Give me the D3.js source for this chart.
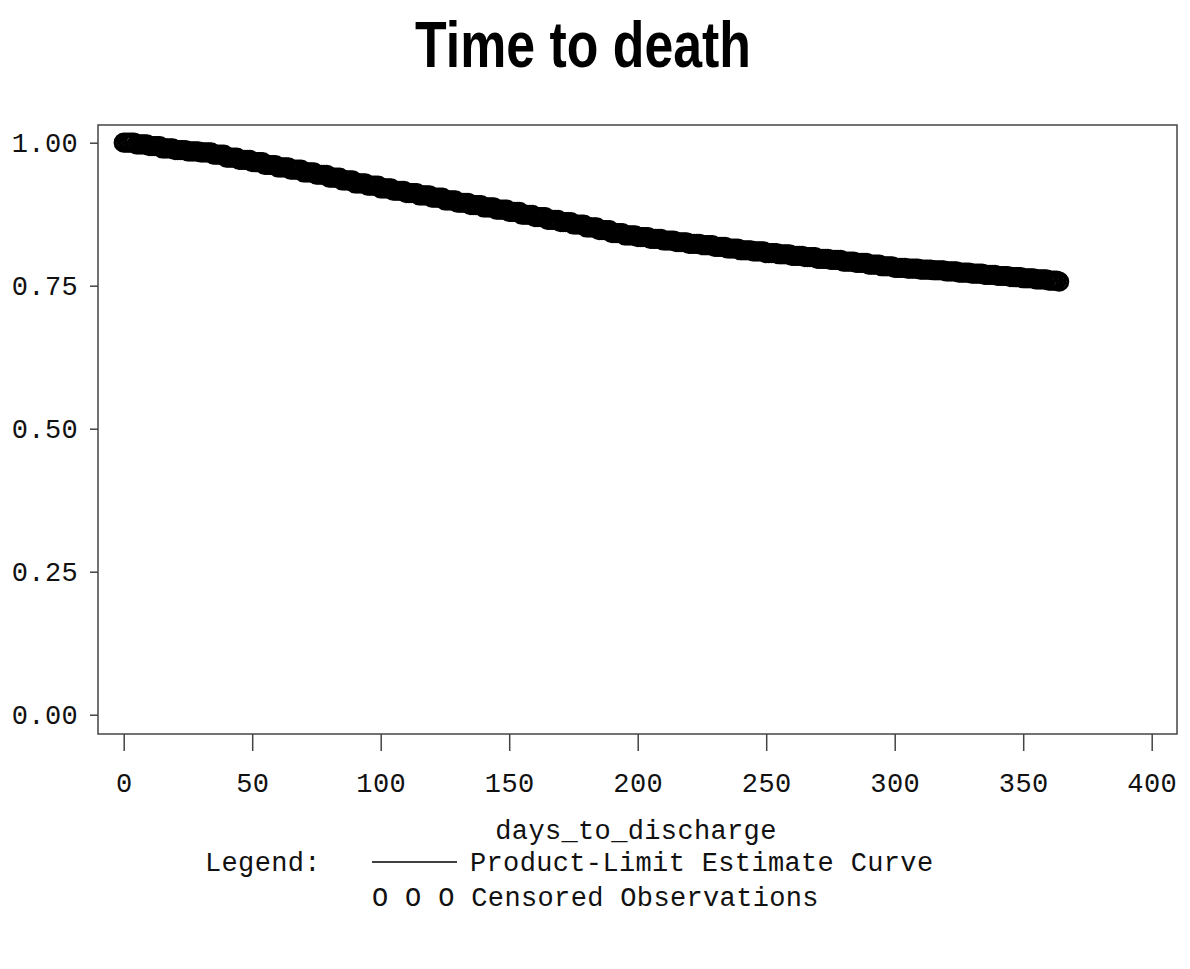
<!DOCTYPE html>
<html>
<head>
<meta charset="utf-8">
<script src="https://cdn.jsdelivr.net/npm/d3@7"></script>
<style>
  html, body { margin: 0; padding: 0; background: #fff; }
  svg { display: block; }
  .mono { font-family: "Liberation Mono", "DejaVu Sans Mono", monospace; font-size: 27px; fill: #111; letter-spacing: 0.35px; }
</style>
</head>
<body>
<script>
// ---- Data ----
const title = "Time to death";
const xLabel = "days_to_discharge";
const xTicks = [0, 50, 100, 150, 200, 250, 300, 350, 400];
const yTicks = [0.00, 0.25, 0.50, 0.75, 1.00];

// Product-limit (Kaplan-Meier) estimate: step times and survival values
const stepDays = [0,5,10,15,20,25,30,35,40,45,50,55,60,65,70,75,80,85,90,95,
  100,105,110,115,120,125,130,135,140,145,150,155,160,165,170,175,180,185,190,195,
  200,205,210,215,220,225,230,235,240,245,250,255,260,265,270,275,280,285,290,295,
  300,305,310,315,320,325,330,335,340,345,350,355,360,364];
const survival = [1.000,0.997,0.994,0.990,0.987,0.985,0.983,0.979,0.974,0.970,
  0.966,0.961,0.957,0.953,0.948,0.944,0.939,0.934,0.929,0.925,
  0.920,0.916,0.912,0.908,0.904,0.899,0.895,0.891,0.887,0.883,
  0.879,0.874,0.870,0.865,0.861,0.857,0.852,0.847,0.842,0.838,
  0.835,0.832,0.829,0.826,0.823,0.821,0.818,0.815,0.812,0.810,
  0.807,0.805,0.802,0.800,0.797,0.795,0.792,0.790,0.787,0.784,
  0.781,0.780,0.778,0.777,0.775,0.773,0.771,0.769,0.767,0.765,
  0.763,0.761,0.759,0.757];

// Censored observation times (days)
const censoredDays = [0,1,2,3,4,5,6,7,8,9,10,11,12,13,14,15,16,17,18,19,20,21,22,23,24,25,26,27,28,29,
30,31,32,33,34,35,36,37,38,39,40,41,42,43,44,45,46,47,48,49,50,51,52,53,54,55,56,57,58,59,
60,61,62,63,64,65,66,67,68,69,70,71,72,73,74,75,76,77,78,79,80,81,82,83,84,85,86,87,88,89,
90,91,92,93,94,95,96,97,98,99,100,101,102,103,104,105,106,107,108,109,110,111,112,113,114,115,116,117,118,119,
120,121,122,123,124,125,126,127,128,129,130,131,132,133,134,135,136,137,138,139,140,141,142,143,144,145,146,147,148,149,
150,151,152,153,154,155,156,157,158,159,160,161,162,163,164,165,166,167,168,169,170,171,172,173,174,175,176,177,178,179,
180,181,182,183,184,185,186,187,188,189,190,191,192,193,194,195,196,197,198,199,200,201,202,203,204,205,206,207,208,209,
210,211,212,213,214,215,216,217,218,219,220,221,222,223,224,225,226,227,228,229,230,231,232,233,234,235,236,237,238,239,
240,241,242,243,244,245,246,247,248,249,250,251,252,253,254,255,256,257,258,259,260,261,262,263,264,265,266,267,268,269,
270,271,272,273,274,275,276,277,278,279,280,281,282,283,284,285,286,287,288,289,290,291,292,293,294,295,296,297,298,299,
300,301,302,303,304,305,306,307,308,309,310,311,312,313,314,315,316,317,318,319,320,321,322,323,324,325,326,327,328,329,
330,331,332,333,334,335,336,337,338,339,340,341,342,343,344,345,346,347,348,349,350,351,352,353,354,355,356,357,358,359,
360,361,362,363,364];

// ---- Layout ----
const W = 1190, H = 969;
const frame = { left: 98, top: 125, right: 1177, bottom: 734 };

const svg = d3.select("body").append("svg").attr("width", W).attr("height", H);

const x = d3.scaleLinear().domain([0, 400]).range([123.7, 1151.7]);
const y = d3.scaleLinear().domain([0, 1]).range([714.7, 142.7]);

// Title
svg.append("text")
  .attr("x", 415).attr("y", 67)
  .attr("textLength", 336).attr("lengthAdjust", "spacingAndGlyphs")
  .style("font-family", "'Liberation Sans', Arial, sans-serif")
  .style("font-weight", "bold").style("font-size", "64px")
  .text(title);

// Frame
svg.append("rect")
  .attr("x", frame.left).attr("y", frame.top)
  .attr("width", frame.right - frame.left).attr("height", frame.bottom - frame.top)
  .attr("fill", "none").attr("stroke", "#444").attr("stroke-width", 1.5);

// Y axis
const yAxis = d3.axisLeft(y).tickValues(yTicks).tickSize(8).tickPadding(12)
  .tickFormat(d3.format(".2f"));
const gy = svg.append("g").attr("transform", `translate(${frame.left},0)`).call(yAxis);
gy.select(".domain").remove();
gy.selectAll(".tick line").attr("stroke", "#444").attr("stroke-width", 1.5);
gy.selectAll(".tick text").attr("class", "mono").attr("dy", "0.34em");

// X axis
const xAxis = d3.axisBottom(x).tickValues(xTicks).tickSize(17).tickPadding(22)
  .tickFormat(d3.format("d"));
const gx = svg.append("g").attr("transform", `translate(0,${frame.bottom})`).call(xAxis);
gx.select(".domain").remove();
gx.selectAll(".tick line").attr("stroke", "#444").attr("stroke-width", 1.5);
gx.selectAll(".tick text").attr("class", "mono").attr("dy", "0.71em");

// X label
svg.append("text").attr("class", "mono")
  .attr("x", 636).attr("y", 839).attr("text-anchor", "middle").text(xLabel);

// Step curve (product-limit estimate)
const stepData = stepDays.map((d, i) => ({ t: d, s: survival[i] }));
const line = d3.line().x(d => x(d.t)).y(d => y(d.s)).curve(d3.curveStepAfter);
svg.append("path").datum(stepData)
  .attr("d", line).attr("fill", "none").attr("stroke", "#000").attr("stroke-width", 1.2);

// Survival value at a given time (step lookup)
const bis = d3.bisector(d => d).right;
function survAt(t) {
  const i = Math.max(0, bis(stepDays, t) - 1);
  return survival[i];
}

// Censored observation markers
svg.append("g").selectAll("circle").data(censoredDays).join("circle")
  .attr("cx", d => x(d)).attr("cy", d => y(survAt(d)))
  .attr("r", 8.6)
  .attr("fill", "none").attr("stroke", "#000").attr("stroke-width", 3);

// Legend
svg.append("text").attr("class", "mono").attr("x", 205).attr("y", 871).text("Legend:");
svg.append("line").attr("x1", 372).attr("x2", 457).attr("y1", 862).attr("y2", 862)
  .attr("stroke", "#000").attr("stroke-width", 1.5);
svg.append("text").attr("class", "mono").attr("x", 470).attr("y", 871).text("Product-Limit Estimate Curve");
svg.append("text").attr("class", "mono").attr("x", 372).attr("y", 906).text("O O O Censored Observations");
</script>
</body>
</html>
